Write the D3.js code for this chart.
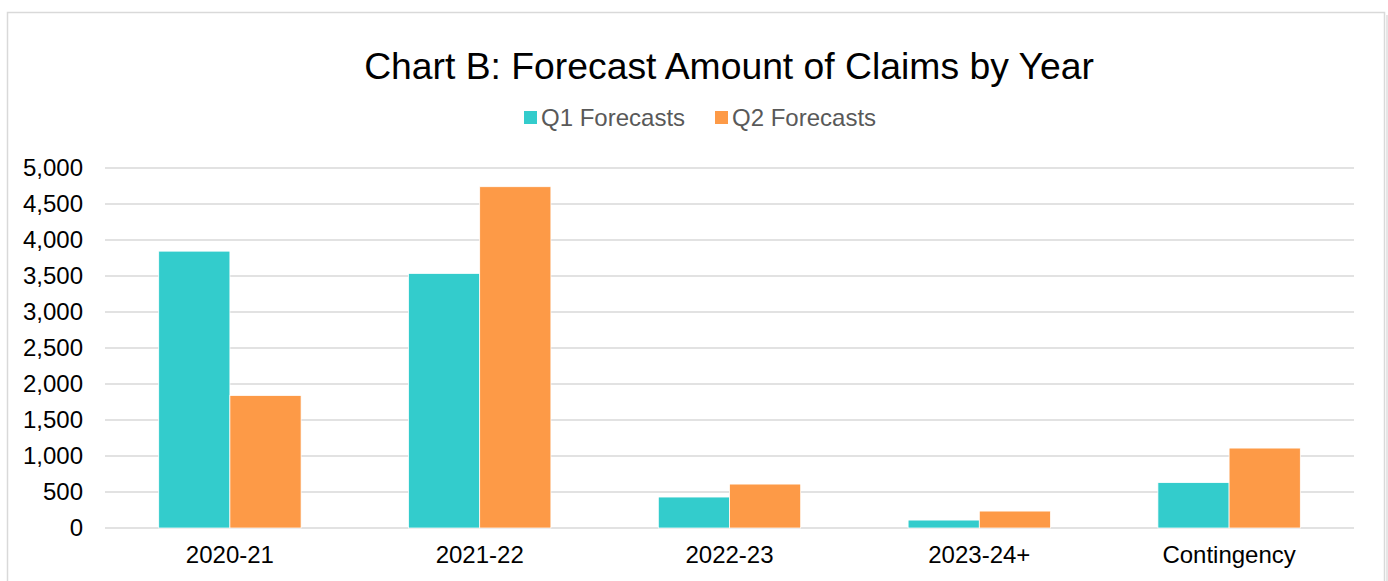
<!DOCTYPE html>
<html>
<head>
<meta charset="utf-8">
<script src="https://cdn.jsdelivr.net/npm/d3@7"></script>
<style>
  body { margin: 0; background: #fff; }
  text { font-family: "Liberation Sans", Arial, sans-serif; }
</style>
</head>
<body>
<svg></svg>
<script>
const categories = ['2020-21', '2021-22', '2022-23', '2023-24+', 'Contingency'];
const seriesNames = ['Q1 Forecasts', 'Q2 Forecasts'];
const q1 = [3845, 3535, 430, 110, 630];
const q2 = [1840, 4740, 610, 235, 1110];
const yTicks = [0, 500, 1000, 1500, 2000, 2500, 3000, 3500, 4000, 4500, 5000];
const colors = ['#33cccc', '#fd9a47'];

const width = 1388;
const height = 581;
const margin = { top: 168, right: 34, bottom: 53, left: 105 };
const innerW = width - margin.left - margin.right;
const innerH = height - margin.top - margin.bottom;

const svg = d3.select('svg')
    .attr('width', width)
    .attr('height', height);

// chart border + shadow
svg.append('rect')
    .attr('x', 1386).attr('y', 15).attr('width', 2).attr('height', height)
    .attr('fill', '#e6e6e6');
svg.append('rect')
    .attr('x', 7.5).attr('y', 12.5).attr('width', 1377).attr('height', height + 10)
    .attr('fill', 'none').attr('stroke', '#d9d9d9').attr('stroke-width', 1.5);

svg.append('text')
    .attr('x', 729).attr('y', 79)
    .attr('text-anchor', 'middle')
    .attr('font-size', 37.3)
    .attr('fill', '#000')
    .text('Chart B: Forecast Amount of Claims by Year');

// legend
const legendX = [524, 715];
const legend = svg.append('g');
seriesNames.forEach((name, i) => {
    legend.append('rect')
        .attr('x', legendX[i]).attr('y', 111)
        .attr('width', 13).attr('height', 13)
        .attr('fill', colors[i]);
    legend.append('text')
        .attr('x', legendX[i] + 17).attr('y', 125.5)
        .attr('font-size', 24)
        .attr('fill', '#595959')
        .text(name);
});

const g = svg.append('g')
    .attr('transform', `translate(${margin.left},${margin.top})`);

const x = d3.scaleBand()
    .domain(categories)
    .range([0, innerW])
    .paddingInner(0.43)
    .paddingOuter(0.215);

const xs = d3.scaleBand()
    .domain(seriesNames)
    .range([0, x.bandwidth()]);

const y = d3.scaleLinear()
    .domain([0, 5000])
    .range([innerH, 0]);

// gridlines
g.append('g')
    .selectAll('line')
    .data(yTicks)
    .enter().append('line')
    .attr('x1', 0).attr('x2', innerW)
    .attr('y1', d => y(d)).attr('y2', d => y(d))
    .attr('stroke', '#d9d9d9').attr('stroke-width', 1.5);

// y axis labels
const yAxis = g.append('g')
    .attr('transform', 'translate(-19,0)')
    .call(d3.axisLeft(y).tickValues(yTicks).tickSize(0).tickFormat(d3.format(',')));
yAxis.select('.domain').remove();
yAxis.selectAll('text')
    .attr('font-size', 24)
    .attr('fill', '#000')
    .attr('font-family', '"Liberation Sans", Arial, sans-serif');

// bars
const rows = categories.map((c, i) => ({ cat: c, vals: [q1[i], q2[i]] }));
g.selectAll('.group')
    .data(rows)
    .enter().append('g')
    .attr('class', 'group')
    .attr('transform', d => `translate(${x(d.cat)},0)`)
    .selectAll('rect')
    .data(d => d.vals.map((v, i) => ({ name: seriesNames[i], v, i })))
    .enter().append('rect')
    .attr('x', d => xs(d.name))
    .attr('y', d => y(d.v))
    .attr('width', xs.bandwidth())
    .attr('height', d => innerH - y(d.v))
    .attr('fill', d => colors[d.i])
    .attr('stroke', '#fff')
    .attr('stroke-width', 0.75);

// x axis labels
const xAxis = g.append('g')
    .attr('transform', `translate(0,${innerH})`)
    .call(d3.axisBottom(x).tickSize(0).tickPadding(18));
xAxis.select('.domain').remove();
xAxis.selectAll('text')
    .attr('font-size', 24)
    .attr('fill', '#000')
    .attr('font-family', '"Liberation Sans", Arial, sans-serif');
</script>
</body>
</html>
